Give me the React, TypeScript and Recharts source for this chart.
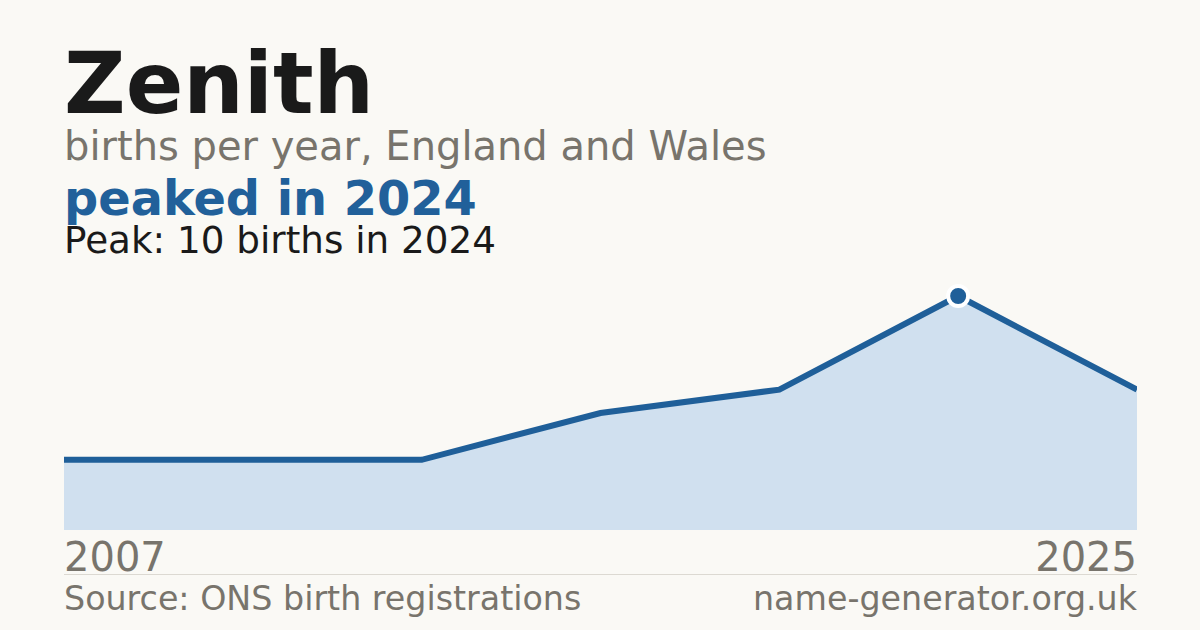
import { AreaChart, Area, XAxis, YAxis } from 'recharts'

const years = ['2007', '2011', '2014', '2017', '2020', '2024', '2025']
const births = [3, 3, 3, 5, 6, 10, 6]
const edgeTicks = ['2007', '2025']

const data = years.map((year, i) => ({ year, births: births[i] }))
const peak = Math.max(...births)

const BLUE = '#1f5f99'
const GREY = '#78746c'
const FONT = '"DejaVu Sans", Verdana, sans-serif'

function YearTick(props: any) {
  const { x, y, payload, index } = props
  const last = payload.value === edgeTicks[edgeTicks.length - 1]
  return (
    <text
      x={x}
      y={y}
      dy={33}
      textAnchor={last ? 'end' : 'start'}
      fill={GREY}
      fontSize={40}
      fontFamily={FONT}
      key={index}
    >
      {payload.value}
    </text>
  )
}

function PeakDot(props: any) {
  const { cx, cy, payload, index } = props
  if (payload.births !== peak) return <g key={index} />
  return <circle key={index} cx={cx} cy={cy} r={10} fill={BLUE} stroke="#ffffff" strokeWidth={4} />
}

export default function App() {
  return (
    <div
      style={{
        position: 'absolute',
        left: 0,
        top: 0,
        width: 1200,
        height: 630,
        background: '#faf9f5',
        overflow: 'hidden',
      }}
    >
      <div style={{ position: 'absolute', left: 64, top: 276 }}>
        <AreaChart width={1073} height={320} data={data} margin={{ top: 20, right: 0, bottom: 0, left: 0 }}>
          <XAxis
            dataKey="year"
            ticks={edgeTicks}
            interval={0}
            axisLine={false}
            tickLine={false}
            height={66}
            tick={<YearTick />}
          />
          <YAxis hide domain={[0, peak]} />
          <Area
            type="linear"
            dataKey="births"
            stroke={BLUE}
            strokeWidth={6}
            fill="#d0e0ef"
            fillOpacity={1}
            dot={<PeakDot />}
            activeDot={false}
            isAnimationActive={false}
          />
        </AreaChart>
      </div>

      <svg
        width={1200}
        height={630}
        style={{ position: 'absolute', left: 0, top: 0, pointerEvents: 'none' }}
        fontFamily={FONT}
      >
        <text x={64} y={113} fontSize={85} fontWeight="bold" fill="#1a1a1a">
          Zenith
        </text>
        <text x={64} y={160} fontSize={40} fill={GREY}>
          births per year, England and Wales
        </text>
        <text x={64} y={215} fontSize={47.8} fontWeight="bold" fill="#21609a">
          peaked in 2024
        </text>
        <text x={64} y={253} fontSize={37.3} fill="#1a1a1a">
          Peak: 10 births in 2024
        </text>
        <line x1={64} x2={1137} y1={574.5} y2={574.5} stroke="#dcd9d2" strokeWidth={1} />
        <text x={64} y={610} fontSize={33.3} fill={GREY}>
          Source: ONS birth registrations
        </text>
        <text x={1137} y={610} fontSize={33.3} fill={GREY} textAnchor="end">
          name-generator.org.uk
        </text>
      </svg>
    </div>
  )
}
